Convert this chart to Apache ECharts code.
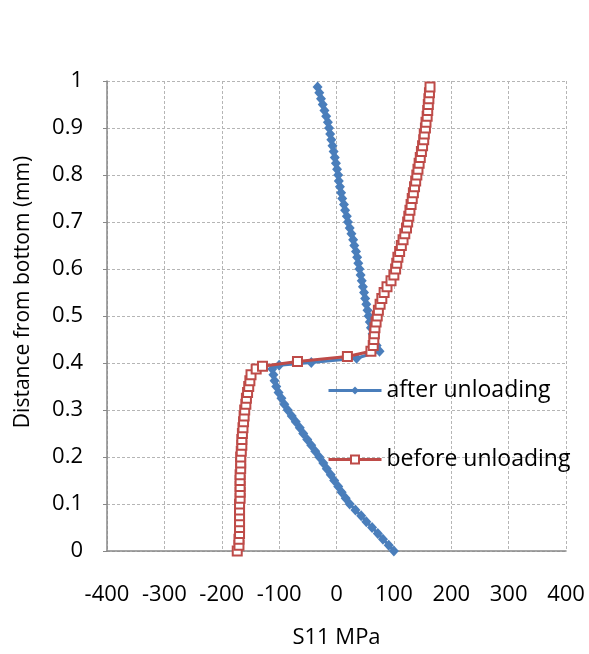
<!DOCTYPE html>
<html><head><meta charset="utf-8">
<script src="https://cdn.jsdelivr.net/npm/echarts@6/dist/echarts.min.js"></script>
<style>html,body{margin:0;padding:0;background:#fff}#c{width:589px;height:654px}</style>
</head><body><div id="c"></div>
<script>
// after unloading (blue)
var afterY = [0,0.0125,0.025,0.0375,0.05,0.0625,0.075,0.0875,0.1,0.1125,0.125,0.1375,0.15,0.1625,0.175,0.1875,0.2,0.2125,0.225,0.2375,0.25,0.2625,0.275,0.2875,0.3,0.3125,0.325,0.3375,0.35,0.3625,0.375,0.3875,0.395,0.401,0.41,0.425,0.4375,0.45,0.4625,0.475,0.4875,0.5,0.5125,0.525,0.5375,0.55,0.5625,0.575,0.5875,0.6,0.6125,0.625,0.6375,0.65,0.6625,0.675,0.6875,0.7,0.7125,0.725,0.7375,0.75,0.7625,0.775,0.7875,0.8,0.8125,0.825,0.8375,0.85,0.8625,0.875,0.8875,0.9,0.9125,0.925,0.9375,0.95,0.9625,0.975,0.9875];
var afterX = [100,91,81,72,62,52,43,33,23,16,9,3,-4,-10,-17,-23,-30,-37,-44,-51,-58,-64,-71,-78,-85,-91,-96,-101,-105,-108,-110,-112,-100,-44,35,75,70,66,63,60,58,56,54,52,50,48,46,44,42,40,38,36,34,31,29,26,23,20,18,15,13,10,8,6,4,3,1,-1,-3,-5,-7,-9,-11,-13,-15,-18,-21,-24,-27,-30,-33];
// before unloading (red)
var beforeY = [0,0.0125,0.025,0.0375,0.05,0.0625,0.075,0.0875,0.1,0.1125,0.125,0.1375,0.15,0.1625,0.175,0.1875,0.2,0.2125,0.225,0.2375,0.25,0.2625,0.275,0.2875,0.3,0.3125,0.325,0.3375,0.35,0.3625,0.375,0.3875,0.393,0.403,0.414,0.425,0.4375,0.45,0.4625,0.475,0.4875,0.5,0.5125,0.525,0.5375,0.55,0.5625,0.575,0.5875,0.6,0.6125,0.625,0.6375,0.65,0.6625,0.675,0.6875,0.7,0.7125,0.725,0.7375,0.75,0.7625,0.775,0.7875,0.8,0.8125,0.825,0.8375,0.85,0.8625,0.875,0.8875,0.9,0.9125,0.925,0.9375,0.95,0.9625,0.975,0.9875];
var beforeX = [-173,-170,-170,-169,-169,-169,-169,-169,-169,-168,-168,-168,-168,-168,-167,-167,-167,-166,-165,-165,-164,-163,-162,-161,-160,-158,-157,-155,-153,-151,-149,-140,-129,-68,19,60,64,65,66,67,69,71,73,76,79,83,88,95,100,103,105,107,110,113,116,119,122,124,126,128,130,132,134,136,138,140,142,144,146,148,150,152,153,155,156,158,159,160,161,162,163];
var seriesNames = ['after unloading','before unloading'];
var xTicks = {min:-400,max:400,interval:100};
var yTicks = {min:0,max:1,interval:0.1};

function pairs(xs, ys){ return xs.map(function(v,i){return [v, ys[i]];}); }
var font = '"Open Sans", sans-serif';
var chart = echarts.init(document.getElementById('c'), null, {renderer:'canvas'});
chart.setOption({
  animation:false,
  backgroundColor:'#fff',
  textStyle:{fontFamily:font},
  grid:{left:107,right:23,top:81,bottom:102,containLabel:false},
  xAxis:{type:'value',min:xTicks.min,max:xTicks.max,interval:xTicks.interval,
    name:'S11 MPa',nameLocation:'middle',nameGap:76,
    nameTextStyle:{fontSize:22,color:'#000',fontFamily:font},
    axisLine:{onZero:false,lineStyle:{color:'#888',width:1.5}},
    axisTick:{show:false},
    axisLabel:{fontSize:22,color:'#000',margin:33,fontFamily:font},
    splitLine:{show:true,lineStyle:{color:'#b5b5b5',type:[3,2],width:1}}},
  yAxis:{type:'value',min:yTicks.min,max:yTicks.max,interval:yTicks.interval,
    axisLine:{show:true,onZero:false,lineStyle:{color:'#888',width:1.5}},
    axisTick:{show:true,inside:false,length:4,lineStyle:{color:'#888'}},
    axisLabel:{fontSize:22,color:'#000',margin:24,fontFamily:font},
    splitLine:{show:true,lineStyle:{color:'#b5b5b5',type:[3,2],width:1}}},
  legend:{orient:'vertical',left:327,top:379,padding:0,itemWidth:53,itemHeight:10,itemGap:46,
    lineStyle:{width:3},
    textStyle:{fontSize:23,color:'#000',fontFamily:font},
    data:seriesNames},
  graphic:[{type:'text',rotation:Math.PI/2,x:23,y:292,
    style:{text:'Distance from bottom (mm)',fontSize:21,fill:'#000',fontFamily:font,textAlign:'center',textVerticalAlign:'middle'}}],
  series:[
    {name:seriesNames[0],type:'line',data:pairs(afterX,afterY),
     lineStyle:{color:'#4A7EBB',width:3},itemStyle:{color:'#4A7EBB'},
     symbol:'diamond',symbolSize:[10,11],showSymbol:true,z:3},
    {name:seriesNames[1],type:'line',data:pairs(beforeX,beforeY),
     lineStyle:{color:'#BE4B48',width:3},itemStyle:{color:'#fff',borderColor:'#BE4B48',borderWidth:2},
     symbol:'rect',symbolSize:9,showSymbol:true,z:4}
  ]
});
</script></body></html>
